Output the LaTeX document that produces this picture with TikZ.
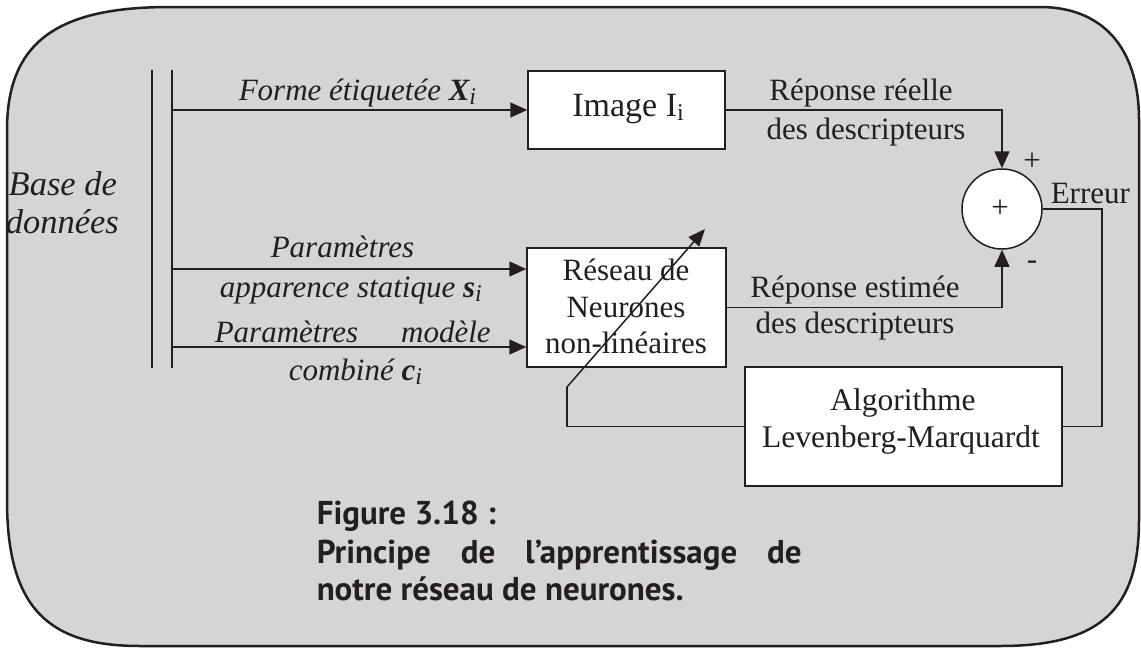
\documentclass[tikz,border=0pt]{standalone}
\usepackage{fontspec}
\setmainfont{Liberation Serif}
\newfontfamily\capfont{PT Sans}
\usetikzlibrary{arrows.meta}
\definecolor{bg}{RGB}{214,212,214}
\definecolor{ink}{RGB}{35,31,32}
\newcommand\sbi[1]{\raisebox{-4pt}{\fontsize{24}{24}\selectfont #1}}
\begin{document}
\begin{tikzpicture}[x=1pt,y=-1pt,color=ink,line width=1.5pt,
  box/.style={draw,fill=white,line width=1.5pt,inner sep=0pt},
  lbl/.style={inner sep=0pt,anchor=base,font=\fontsize{31}{33}\selectfont},
  ilbl/.style={inner sep=0pt,anchor=base west,font=\fontsize{31}{33}\selectfont\itshape},
  arr/.style={-{Triangle[length=17pt,width=15pt]}},
  captxt/.style={inner sep=0pt,anchor=base west,font=\capfont\bfseries\fontsize{33}{36}\selectfont}]
\useasboundingbox (0,0) rectangle (1141,648);
% outer frame
\draw[line width=2.5pt,fill=bg] (7,130) .. controls (7,40) and (60,7) .. (170,7)
  -- (1040,7) .. controls (1100,7) and (1139,45) .. (1139,120)
  -- (1139,520) .. controls (1139,610) and (1100,646) .. (1000,646)
  -- (140,646) .. controls (50,646) and (7,610) .. (7,500) -- cycle;
% bus
\coordinate (b1t) at (152,70); \coordinate (b1b) at (152,368);
\coordinate (b2t) at (172,70); \coordinate (b2b) at (172,368);
\draw (b1t) -- (b1b);
\draw (b2t) -- (b2b);
% blocks
\node[box,minimum width=197pt,minimum height=78pt] (img) at (626.5,110) {};
\node[box,minimum width=199pt,minimum height=119pt] (res) at (626.5,307.5) {};
\node[box,minimum width=317pt,minimum height=119pt] (algo) at (903.5,426.5) {};
\node[box,circle,minimum size=80pt] (sum) at (1002,209) {};
% block texts
\node[lbl,font=\fontsize{34}{36}\selectfont] (imgt) at (628,116) {Image I\sbi{i}};
\node[lbl] (rest1) at (626,280) {Réseau de};
\node[lbl] (rest2) at (626,317) {Neurones};
\node[lbl] (rest3) at (626,353) {non-linéaires};
\node[lbl,font=\fontsize{31.5}{33}\selectfont] (algt1) at (903,410) {Algorithme};
\node[lbl,font=\fontsize{31.5}{33}\selectfont] (algt2) at (901,447) {Levenberg-Marquardt};
\node[lbl,anchor=center] (plus) at (1000,209) {+};
% input arrows
\coordinate (s1) at (172,110);
\coordinate (s2) at (172,269);
\coordinate (s3) at (172,347);
\draw[arr] (s1) -- (img.west);
\draw[arr] (s2) -- (s2 -| res.west);
\draw[arr] (s3) -- (s3 -| res.west);
% outputs to summation
\draw[arr] (img.east) -| (sum.north);
\draw[arr] (res.east) -| (sum.south);
\draw (sum.east) -- ++(59,0) |- (algo.east);
\coordinate (fb1) at (567,387);
\coordinate (fb2) at (705,229);
\draw (algo.west) -| (fb1);
\draw[-{Triangle[length=17pt,width=14pt]}] (fb1) -- (fb2);
% labels
\node[ilbl] (l1) at (238,100) {Forme étiquetée \textbf{X}\sbi{i}};
\node[ilbl] (l2) at (270,257) {Paramètres};
\node[ilbl] (l3) at (219,297) {apparence statique \textbf{s}\sbi{i}};
\node[ilbl] (l4) at (214,342) {\makebox[276pt][s]{Paramètres modèle}};
\node[ilbl] (l5) at (288,380) {combiné \textbf{c}\sbi{i}};
\node[ilbl,font=\fontsize{34.5}{36}\selectfont\itshape] (db1) at (8,195) {Base de};
\node[ilbl,font=\fontsize{34.5}{36}\selectfont\itshape] (db2) at (5,233) {données};
\node[lbl] (r1) at (861,100) {Réponse réelle};
\node[lbl] (r2) at (866,139) {des descripteurs};
\node[lbl] (e1) at (855,297) {Réponse estimée};
\node[lbl] (e2) at (855,333) {des descripteurs};
\node[lbl,anchor=center] (pp) at (1032,162) {+};
\node[lbl,anchor=center] (mm) at (1032,265) {-};
\node[lbl,anchor=base west] (err) at (1050,203) {Erreur};
% caption
\node[captxt] (c1) at (316,524) {Figure 3.18 :};
\node[captxt] (c2) at (316,563) {\makebox[485pt][s]{Principe de l’apprentissage de}};
\node[captxt] (c3) at (316,600) {notre réseau de neurones.};
\end{tikzpicture}
\end{document}
